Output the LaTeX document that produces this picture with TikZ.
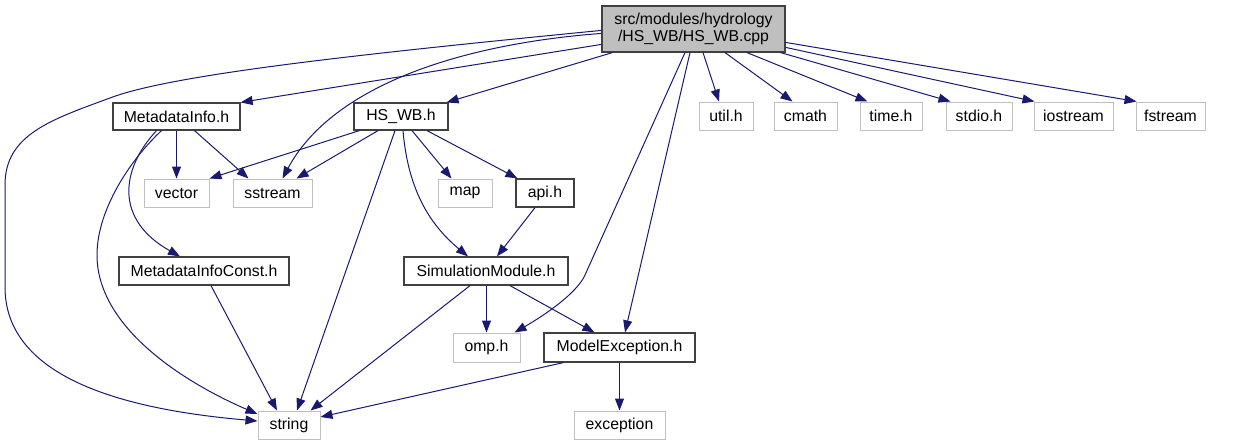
\documentclass[tikz,border=0pt]{standalone}
\usepackage{fontspec}
\setmainfont{Liberation Sans}
\usetikzlibrary{arrows.meta,calc}
\definecolor{edgeblue}{HTML}{191970}
\definecolor{rootfill}{HTML}{BFBFBF}
\definecolor{intborder}{HTML}{404040}
\definecolor{extborder}{HTML}{C0C0C0}
\begin{document}
\begin{tikzpicture}[x=1pt,y=-1pt,
  every node/.style={font=\fontsize{15.8}{17.5}\selectfont, inner sep=0pt, text=black},
  intbox/.style={draw=intborder, line width=1.2pt, fill=white, minimum height=#1},
  intbox/.default=27pt,
  extbox/.style={draw=extborder, line width=1pt, fill=white, minimum height=28pt},
  rootbox/.style={draw=intborder, line width=1.2pt, fill=rootfill, minimum height=46pt, minimum width=183pt, align=center},
  dep/.style={draw=edgeblue, line width=1pt, -{Triangle[length=12pt,width=9pt]}, fill=none}
]
\useasboundingbox (0,0) rectangle (1239,445);

% nodes
\node[rootbox] (root) at (693.5,29) {src/modules/hydrology\\/HS\_WB/HS\_WB.cpp};
\node[intbox, minimum width=127pt] (MI) at (176.5,116.5) {MetadataInfo.h};
\node[intbox, minimum width=94pt] (HS) at (401,116.5) {HS\_WB.h};
\node[extbox, minimum width=65pt] (vector) at (176.5,193) {vector};
\node[extbox, minimum width=79pt] (sstream) at (272.5,193) {sstream};
\node[extbox, minimum width=54pt] (map) at (465,193) {map};
\node[intbox=28pt, minimum width=58pt] (api) at (545,193) {api.h};
\node[intbox=28pt, minimum width=164pt] (SM) at (486,271) {SimulationModule.h};
\node[intbox=28pt, minimum width=170pt] (MIC) at (204,271) {MetadataInfoConst.h};
\node[extbox, minimum width=67pt, minimum height=29pt] (omp) at (486.5,347.5) {omp.h};
\node[intbox=29pt, minimum width=151pt] (ME) at (619.5,347.5) {ModelException.h};
\node[extbox, minimum width=62pt] (string) at (289,425) {string};
\node[extbox, minimum width=91pt] (exception) at (619.5,425) {exception};
\node[extbox, minimum width=54pt] (util) at (726,116) {util.h};
\node[extbox, minimum width=63pt] (cmath) at (805.5,116) {cmath};
\node[extbox, minimum width=62pt] (time) at (891,116) {time.h};
\node[extbox, minimum width=66pt] (stdio) at (979,116) {stdio.h};
\node[extbox, minimum width=79pt] (iostream) at (1073.5,116) {iostream};
\node[extbox, minimum width=69pt] (fstream) at (1170.5,116) {fstream};

% edges from root
\draw[dep] ($(root.north west)+(0,25)$) .. controls (350,55) and (170,75) .. (110,98)
   .. controls (50,120) and (5,135) .. (5,185) -- (5,287)
   .. controls (5,380) and (130,410) .. ($(string.west)+(0,-4)$);
\draw[dep] ($(root.north west)+(0,28)$) .. controls (450,45) and (330,90) .. ($(sstream.north)+(10,0)$);
\draw[dep] ($(root.north west)+(0,39)$) -- (MI.north east);
\draw[dep] ($(root.south west)+(11,0)$) -- ($(HS.north east)+(-2,0)$);
\draw[dep] ($(root.south)+(-8.5,0)$) -- (585,275) .. controls (577,293) and (545,315) .. ($(omp.north east)+(-6,0)$);
\draw[dep] ($(root.south)+(-3.5,0)$) -- ($(ME.north)+(5.5,0)$);
\draw[dep] ($(root.south)+(9.5,0)$) -- ($(util.north)+(-7,0)$);
\draw[dep] ($(root.south)+(31.5,0)$) -- ($(cmath.north)+(-13,0)$);
\draw[dep] ($(root.south)+(53.5,0)$) -- ($(time.north west)+(8,0)$);
\draw[dep] ($(root.south east)+(-5,0)$) -- ($(stdio.north west)+(5,0)$);
\draw[dep] ($(root.north east)+(0,42)$) -- ($(iostream.north west)+(1,0)$);
\draw[dep] ($(root.north east)+(0,37)$) -- ($(fstream.north west)+(1,0)$);

% MetadataInfo.h
\draw[dep] (MI.south) -- (vector.north);
\draw[dep] ($(MI.south)+(18,0)$) -- ($(sstream.north)+(-24,0)$);
\draw[dep] ($(MI.south)+(-20,0)$) .. controls (120,170) and (115,220) .. ($(MIC.north)+(-24,0)$);
\draw[dep] ($(MI.south)+(-15,0)$) .. controls (130,160) and (97,210) .. (97,255)
   .. controls (97,330) and (190,385) .. ($(string.west)+(0,-11)$);

% MetadataInfoConst.h
\draw[dep] ($(MIC.south)+(7,0)$) -- ($(string.north)+(-12,0)$);

% HS_WB.h
\draw[dep] ($(HS.south west)+(6,0)$) -- (vector.north east);
\draw[dep] ($(HS.south)+(-23,0)$) -- ($(sstream.north)+(24,0)$);
\draw[dep] ($(HS.south)+(-6,0)$) -- ($(string.north)+(8,0)$);
\draw[dep] ($(HS.south)+(2,0)$) .. controls (408,190) and (430,225) .. ($(SM.north)+(-18,0)$);
\draw[dep] ($(HS.south)+(11,0)$) -- ($(map.north west)+(14,0)$);
\draw[dep] ($(HS.south)+(26,0)$) -- ($(api.north west)+(2,0)$);

% api.h
\draw[dep] ($(api.south)+(-10,0)$) -- ($(SM.north)+(11,0)$);

% SimulationModule.h
\draw[dep] ($(SM.south)+(-16,0)$) -- ($(string.north east)+(-10,0)$);
\draw[dep] ($(SM.south)+(0.5,0)$) -- (omp.north);
\draw[dep] ($(SM.south)+(24,0)$) -- ($(ME.north west)+(51,0)$);

% ModelException.h
\draw[dep] ($(ME.south west)+(20,0)$) -- ($(string.east)+(0,-8)$);
\draw[dep] (ME.south) -- (exception.north);
\end{tikzpicture}
\end{document}
